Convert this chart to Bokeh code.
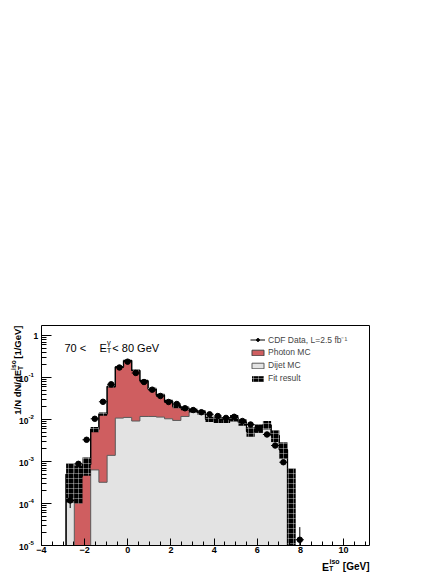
import numpy as np
from bokeh.plotting import figure
from bokeh.models import (Range1d, FixedTicker, SingleIntervalTicker, Label, Legend,
                          LegendItem, ColumnDataSource, CustomJSTickFormatter,
                          LinearAxis, LogAxis)
from bokeh.embed import file_html
from bokeh.resources import INLINE

# ---------------- data ----------------
bin_width = 0.38
bin_lo = [-2.86, -2.48, -2.10, -1.72, -1.34, -0.96, -0.58, -0.20, 0.18, 0.56,
          0.94, 1.32, 1.70, 2.08, 2.46, 2.84, 3.22, 3.60, 3.98, 4.36,
          4.74, 5.12, 5.50, 5.88, 6.26, 6.64, 7.02, 7.40, 7.78]

dijet = [5.0e-4, 0, 0, 6.3e-4, 3.2e-4, 1.4e-3, 0.0108, 0.0112, 0.0092, 0.0118,
         0.0118, 0.0114, 0.0104, 0.0095, 0.0118, 0.0155, 0.0145, 0.0100, 0.0097, 0.0097,
         0.0108, 0.0086, 0.0052, 0.0062, 0.0074, 0.0041, 0.0019, 0, 0]

photon = [0, 4.5e-4, 8.5e-4, 5.2e-3, 0.0132, 0.0596, 0.167, 0.243, 0.138, 0.0716,
          0.0412, 0.0266, 0.0166, 0.0112, 0.0068, 0.0009, 0.0004, 0.0002, 0.0001, 0.0001,
          0.0001, 0, 0, 0, 0, 0, 0, 0, 0]

fit_val = [5.0e-4, 4.5e-4, 8.5e-4, 5.8e-3, 0.0135, 0.061, 0.178, 0.254, 0.147, 0.0834,
           0.053, 0.038, 0.027, 0.0207, 0.0186, 0.0164, 0.0149, 0.0102, 0.0098, 0.0098,
           0.0109, 0.0086, 0.0052, 0.0062, 0.0075, 0.0042, 0.0020, 3.4e-4, 0]
fit_err = [3.95e-4, 3.5e-4, 3.9e-4, 8.5e-4, 0.0012, 0.003, 0.0053, 0.0076, 0.0059, 0.005,
           0.0037, 0.003, 0.0024, 0.0021, 0.0019, 0.0018, 0.0018, 0.0015, 0.0015, 0.0015,
           0.0019, 0.0015, 0.0013, 0.0014, 0.0017, 0.0013, 0.00085, 3.4e-4, 0]

data_val = [1.18e-4, 8.8e-4, 3.29e-3, 0.0104, 0.0264, 0.0689, 0.173, 0.238, 0.128, 0.078,
            0.0513, 0.0363, 0.0261, 0.0234, 0.0185, 0.0168, 0.0149, 0.0133, 0.0121, 0.0109,
            0.0116, 0.0092, 0.0076, 0.0062, 0.0044, 0.0024, 9.6e-4, 0, 1.37e-5]
data_err = [4.0e-5, 1.1e-4, 2.1e-4, 3.8e-4, 6.0e-4, 9.7e-4, 1.5e-3, 1.8e-3, 1.3e-3, 1.0e-3,
            8.4e-4, 7.0e-4, 6.0e-4, 5.7e-4, 5.0e-4, 4.8e-4, 4.5e-4, 4.3e-4, 4.1e-4, 3.9e-4,
            4.0e-4, 3.5e-4, 3.2e-4, 2.9e-4, 2.5e-4, 1.8e-4, 1.1e-4, 0, 1.37e-5]

y_ticks = [1e-5, 1e-4, 1e-3, 1e-2, 1e-1, 1]
y_tick_base = ["10", "10", "10", "10", "10", "1"]
y_tick_exp = ["-5", "-4", "-3", "-2", "-1", ""]

# ---------------- layout / style ----------------
W, H = 443, 573
X0, X1 = -4.0, 11.2          # axis range
Y0, Y1 = 1e-5, 1.73
PL, PR, PT, PB = 41, 369, 325, 545   # plot-area box in page pixels
RED = "#cf5e60"
GRAY = "#e3e3e3"
FONT = "Liberation Sans"

kx = (PR - PL) / (X1 - X0)
dec = (PB - PT) / np.log10(Y1 / Y0)
xr = Range1d(X0 - PL / kx, X1 + (W - PR) / kx)
yr = Range1d(Y0 / 10 ** ((H - PB) / dec), Y1 * 10 ** (PT / dec))

lo = np.array(bin_lo)
hi = lo + bin_width
ctr = lo + bin_width / 2
dj = np.array(dijet)
ph = np.array(photon)
tot = dj + ph
fv = np.array(fit_val)
fe = np.array(fit_err)
dv = np.array(data_val)
de = np.array(data_err)

p = figure(width=W, height=H, x_range=xr, y_range=yr, y_axis_type="log",
           x_axis_location=None, y_axis_location=None,
           output_backend="svg", toolbar_location=None, min_border=0)
p.xgrid.visible = False
p.ygrid.visible = False
p.outline_line_color = None
p.background_fill_color = "white"
p.border_fill_color = "white"


def outline(vals):
    idx = [i for i, v in enumerate(vals) if v > 0]
    first, last = idx[0], idx[-1]
    xs, ys = [lo[first]], [Y0]
    for i in range(first, last + 1):
        v = vals[i] if vals[i] > 0 else Y0
        xs += [lo[i], hi[i]]
        ys += [v, v]
    xs.append(hi[last])
    ys.append(Y0)
    return xs, ys


xs_t, ys_t = outline(tot)
xs_d, ys_d = outline(dj)
red_r = p.patch(xs_t, ys_t, fill_color=RED, line_color="#444444", line_width=1)
gray_r = p.patch(xs_d, ys_d, fill_color=GRAY, line_color="#5a5a5a", line_width=1)
p.line(xs_t, ys_t, line_color="black", line_width=1.3)

m = fv > 0
fit_r = p.quad(left=lo[m], right=hi[m], bottom=np.maximum(fv[m] - fe[m], Y0), top=fv[m] + fe[m],
               fill_color="black", line_color=None, hatch_pattern="+", hatch_color="white",
               hatch_scale=5, hatch_weight=0.5, hatch_alpha=0.75)

m = dv > 0
src = ColumnDataSource(dict(x=ctr[m], lo=lo[m], hi=hi[m], y=dv[m],
                            ylo=np.maximum(dv[m] - de[m], Y0), yhi=dv[m] + de[m]))
p.segment(x0="x", x1="x", y0="ylo", y1="yhi", source=src, line_color="black", line_width=1)
hbar_r = p.segment(x0="lo", x1="hi", y0="y", y1="y", source=src, line_color="black", line_width=1)
dot_r = p.scatter(x="x", y="y", source=src, size=5.5, fill_color="black", line_color="black")

legend = Legend(items=[
    LegendItem(label="CDF Data, L=2.5 fb\u207b\u00b9", renderers=[hbar_r, dot_r]),
    LegendItem(label="Photon MC", renderers=[red_r]),
    LegendItem(label="Dijet MC", renderers=[gray_r]),
    LegendItem(label="Fit result", renderers=[fit_r]),
], location=(250, H - 384), orientation="vertical")
legend.label_text_font = FONT
legend.label_text_font_size = "8.5px"
legend.glyph_width = 15
legend.glyph_height = 7
legend.label_height = 12
legend.spacing = 1
legend.padding = 0
legend.margin = 0
legend.label_standoff = 3
legend.border_line_color = None
legend.background_fill_alpha = 0
p.add_layout(legend)

# ---------------- axes (fixed at the plot-area box) ----------------
blank = CustomJSTickFormatter(code="return ' '")
y_minor = [mm * 10.0 ** k for k in range(-5, 1) for mm in range(2, 10) if mm * 10.0 ** k <= Y1]

xaxis = LinearAxis(fixed_location=Y0, bounds=(X0, X1),
                   ticker=SingleIntervalTicker(interval=2, num_minor_ticks=4))
yaxis = LogAxis(fixed_location=X0, bounds=(Y0, Y1),
                ticker=FixedTicker(ticks=y_ticks, minor_ticks=y_minor),
                formatter=blank)
topax = LinearAxis(fixed_location=Y1, bounds=(X0, X1), ticker=FixedTicker(ticks=[]), formatter=blank)
rightax = LinearAxis(fixed_location=X1, bounds=(Y0, Y1), ticker=FixedTicker(ticks=[]), formatter=blank)
for ax in (xaxis, yaxis, topax, rightax):
    ax.axis_line_color = "black"
    ax.axis_line_width = 1
    ax.major_tick_line_color = "black"
    ax.minor_tick_line_color = "black"
    ax.major_tick_out = 0
    ax.minor_tick_out = 0
xaxis.major_tick_in = 7
xaxis.minor_tick_in = 4
yaxis.major_tick_in = 10
yaxis.minor_tick_in = 5
xaxis.major_label_text_font = FONT
xaxis.major_label_text_font_style = "bold"
xaxis.major_label_text_font_size = "9px"
xaxis.major_label_text_color = "black"
xaxis.major_label_standoff = 1
for ax in (yaxis, topax, rightax):
    ax.major_label_text_font_size = "4px"
    ax.major_label_standoff = 0
p.add_layout(xaxis, "below")
p.add_layout(yaxis, "left")
p.add_layout(topax, "above")
p.add_layout(rightax, "right")


def lab(text, px, py, size, style="normal", align="left", baseline="alphabetic",
        angle=0.0, ydata=None, yoff=0):
    """px, py: page pixels from the top-left corner (py ignored when ydata is given)."""
    if ydata is None:
        kw = dict(y=H - py, y_units="screen")
    else:
        kw = dict(y=ydata, y_units="data")
    p.add_layout(Label(text=text, x=px, x_units="screen", angle=angle,
                       text_font=FONT, text_font_size=size, text_font_style=style,
                       text_align=align, text_baseline=baseline, text_color="black",
                       y_offset=yoff, **kw))


# y tick labels
for t, b, e in zip(y_ticks, y_tick_base, y_tick_exp):
    if e:
        lab(b, 28, 0, "8.5px", "bold", "right", "middle", ydata=t, yoff=-1.5)
        lab(e, 28, 0, "6px", "bold", "left", "middle", ydata=t, yoff=2.5)
    else:
        lab(b, 37.8, 0, "8.5px", "bold", "right", "middle", ydata=t, yoff=-1)

# x axis title
lab("E", 321.5, 566, "10.5px", "bold")
lab("T", 328.6, 567.5, "7px", "bold")
lab("iso", 329, 560.5, "7px", "bold")
lab("[GeV]", 369, 566, "10px", "bold", "right")

# y axis title (rotated)
A = np.pi / 2
lab("1/N dN/dE", 17, 369.4, "9.5px", "bold", "right", angle=A)
lab("T", 19.5, 369.4, "6.65px", "bold", "left", angle=A)
lab("iso", 13, 369.4, "6.65px", "bold", "left", angle=A)
lab("[1/GeV]", 17, 325, "9.5px", "bold", "right", angle=A)

# in-plot text
lab("70 <", 64, 347.7, "11px")
lab("E", 99, 347.7, "11px")
lab("T", 106.3, 349.5, "7.5px")
lab("\u03b3", 106.5, 342, "7.5px")
lab("< 80 GeV", 111.8, 347.7, "11px")

open("out.html", "w").write(file_html(p, INLINE))
